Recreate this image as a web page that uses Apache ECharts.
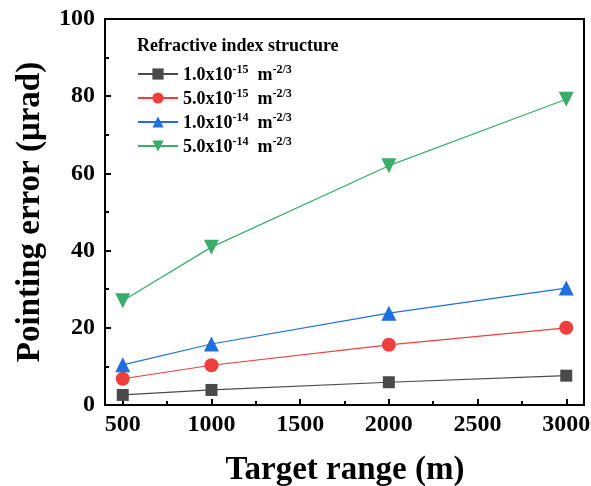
<!DOCTYPE html>
<html>
<head>
<meta charset="utf-8">
<script src="https://cdn.jsdelivr.net/npm/echarts@6/dist/echarts.min.js"></script>
<style>
  html, body { margin: 0; padding: 0; background: #fff; }
  #chart { width: 591px; height: 486px; }
</style>
</head>
<body>
<div id="chart"></div>
<script>
// Target range (m)
const ranges = [500, 1000, 2000, 3000];

// Pointing error (μrad) for each refractive index structure constant
const cn1e15 = [2.6, 3.9, 5.9, 7.6];
const cn5e15 = [6.8, 10.3, 15.6, 20.0];
const cn1e14 = [10.4, 15.8, 23.8, 30.3];
const cn5e14 = [27.0, 40.9, 62.0, 79.2];

// Legend labels: mantissa ^ exponent
const seriesNames = ['1.0x10^-15', '5.0x10^-15', '1.0x10^-14', '5.0x10^-14'];

const xMajorTicks = [500, 1000, 1500, 2000, 2500, 3000];
const xMinorTicks = [750, 1250, 1750, 2250, 2750];
const yMinorTicks = [10, 30, 50, 70, 90];

const xTitle = 'Target range (m)';
const yTitle = 'Pointing error (\u03bcrad)';
const legendTitle = 'Refractive index structure';

const FONT = '"Liberation Serif", "Times New Roman", serif';

const colors = ['#4a4a4a', '#ef3e3e', '#1e6fe0', '#38ad6a'];
const symbols = ['rect', 'circle', 'triangle', 'triangle'];
const symbolSizes = [12, 14, 15, 15];
const rotates = [0, 0, 0, 180];
const dataSets = [cn1e15, cn5e15, cn1e14, cn5e14];

const chart = echarts.init(document.getElementById('chart'));

const series = dataSets.map((vals, i) => ({
  name: seriesNames[i],
  type: 'line',
  xAxisIndex: 0,
  yAxisIndex: 0,
  data: ranges.map((r, j) => [r, vals[j]]),
  symbol: symbols[i],
  symbolSize: symbolSizes[i],
  symbolRotate: rotates[i],
  itemStyle: { color: colors[i] },
  lineStyle: { color: colors[i], width: 1.2 },
  emphasis: { disabled: true },
  z: 3 + i
}));

chart.setOption({
  animation: false,
  grid: {
    left: 105, right: 7, top: 19, bottom: 81,
    outerBoundsMode: 'none', containLabel: false,
    show: true, borderColor: '#000', borderWidth: 2, backgroundColor: 'transparent'
  },
  xAxis: [{
    type: 'value', min: 400, max: 3100,
    axisLine: { show: true, lineStyle: { color: '#000', width: 2 } },
    axisTick: { show: true, inside: true, length: 6, lineStyle: { color: '#000', width: 2 }, customValues: xMajorTicks },
    axisLabel: {
      customValues: xMajorTicks, formatter: (v) => String(v),
      fontFamily: FONT, fontWeight: 'bold', fontSize: 24, color: '#000', margin: 8
    },
    splitLine: { show: false }
  }, {
    type: 'value', min: 400, max: 3100, position: 'bottom',
    axisLine: { show: false },
    axisTick: { show: true, inside: true, length: 4, lineStyle: { color: '#000', width: 2 }, customValues: xMinorTicks },
    axisLabel: { show: false },
    splitLine: { show: false }
  }],
  yAxis: [{
    type: 'value', min: 0, max: 100, interval: 20,
    name: yTitle, nameLocation: 'middle', nameGap: 58,
    nameTextStyle: { fontFamily: FONT, fontWeight: 'bold', fontSize: 33, color: '#000' },
    axisLine: { show: true, lineStyle: { color: '#000', width: 2 } },
    axisTick: { show: true, inside: true, length: 6, lineStyle: { color: '#000', width: 2 } },
    axisLabel: { fontFamily: FONT, fontWeight: 'bold', fontSize: 24, color: '#000', margin: 10 },
    splitLine: { show: false }
  }, {
    type: 'value', min: 0, max: 100, position: 'left',
    axisLine: { show: false },
    axisTick: { show: true, inside: true, length: 4, lineStyle: { color: '#000', width: 2 }, customValues: yMinorTicks },
    axisLabel: { show: false },
    splitLine: { show: false }
  }],
  legend: {
    orient: 'vertical', left: 132, top: 59,
    itemWidth: 40, itemHeight: 14, itemGap: 4,
    data: seriesNames,
    formatter: (name) => {
      const [m, e] = name.split('^');
      return '{b|' + m + '}{s|' + e + '}{b|  m}{s|-2/3}';
    },
    textStyle: {
      fontFamily: FONT, fontWeight: 'bold', color: '#000',
      rich: {
        b: { fontFamily: FONT, fontWeight: 'bold', fontSize: 18, color: '#000', verticalAlign: 'bottom', lineHeight: 20 },
        s: { fontFamily: FONT, fontWeight: 'bold', fontSize: 12, color: '#000', verticalAlign: 'top', lineHeight: 20 }
      }
    }
  },
  graphic: [{
    type: 'text', left: 137, top: 37,
    style: { text: legendTitle, fontFamily: FONT, fontWeight: 'bold', fontSize: 18, fill: '#000' }
  }, {
    type: 'text', x: 345, y: 470,
    style: {
      text: xTitle, fontFamily: FONT, fontWeight: 'bold', fontSize: 33, fill: '#000',
      align: 'center', verticalAlign: 'middle'
    }
  }],
  series: series
});
</script>
</body>
</html>
